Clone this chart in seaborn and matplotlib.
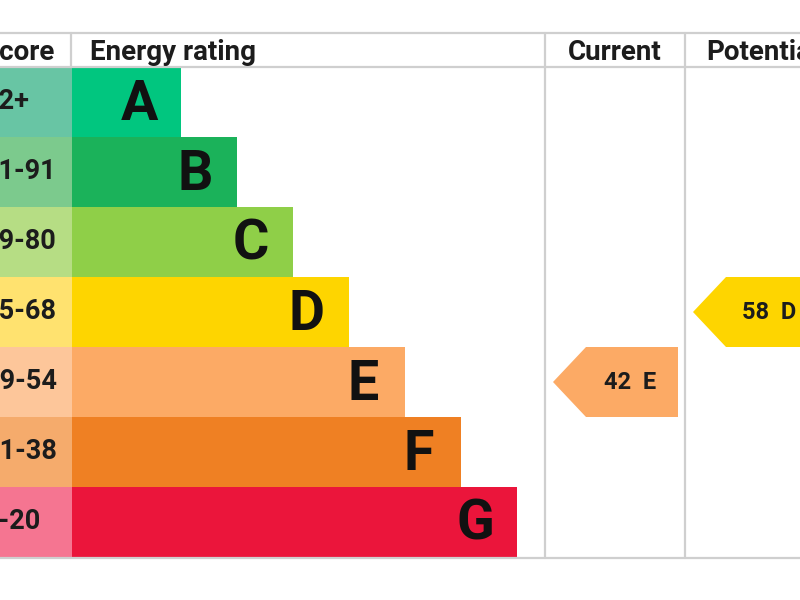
import seaborn as sns
import matplotlib.pyplot as plt
import pandas as pd

# chart values
bands = ["A", "B", "C", "D", "E", "F", "G"]
score_ranges = ["92+", "81-91", "69-80", "55-68", "39-54", "21-38", "1-20"]
bar_lengths = [109, 165, 221, 277, 333, 389, 445]
band_colors = ["#01c67f", "#1bb25a", "#8fcf48", "#fed500", "#fcaa65", "#ef8023", "#eb153b"]
score_colors = ["#68c5a4", "#7cca8d", "#b6dd84", "#ffe26f", "#fdc69a", "#f5ab6c", "#f57591"]
current_band = "E"
current_score = 42
potential_band = "D"
potential_score = 58

W, H = 800, 600
TOP, BOTTOM = 67, 557
GRID = "#cfcfcf"
INK = "#1c1c1c"

sns.set_theme(style="white")
plt.rcParams["font.family"] = ["Roboto", "DejaVu Sans"]

fig = plt.figure(figsize=(8, 6), dpi=100, facecolor="white")


def px_axes(left, right):
    return fig.add_axes([left / W, 1 - BOTTOM / H, (right - left) / W, (BOTTOM - TOP) / H])


df = pd.DataFrame({"band": bands, "length": bar_lengths, "score": score_ranges})
df["cell"] = 72

# score column
ax_score = px_axes(0, 72)
sns.barplot(data=df, y="band", x="cell", hue="band", palette=score_colors, order=bands,
            width=1, saturation=1, linewidth=0, legend=False, ax=ax_score)
ax_score.set_xlim(0, 72)
ax_score.set_ylim(6.5, -0.5)
for i, s in enumerate(score_ranges):
    ax_score.text(-16, i - 0.01, s, ha="left", va="center", fontsize=19.5,
                  fontweight="bold", color=INK, clip_on=False)

# rating bars
ax_bars = px_axes(72, 545)
sns.barplot(data=df, y="band", x="length", hue="band", palette=band_colors, order=bands,
            width=1, saturation=1, linewidth=0, legend=False, ax=ax_bars)
ax_bars.set_xlim(0, 473)
ax_bars.set_ylim(6.5, -0.5)
for i, (b, n) in enumerate(zip(bands, bar_lengths)):
    ax_bars.text(n - 42, i + 0.04, b, ha="center", va="center", fontsize=40,
                 fontweight="bold", color="#111111")

for ax in (ax_score, ax_bars):
    ax.axis("off")

# current / potential arrows, on the same row scale as the bars
ax_arrows = px_axes(545, 800)
ax_arrows.set_xlim(545, 800)
ax_arrows.set_ylim(6.5, -0.5)
ax_arrows.axis("off")


def draw_arrow(band, tip, right, label, label_x):
    row = bands.index(band)
    shoulder = tip + 33
    ax_arrows.fill([tip, shoulder, right, right, shoulder],
                   [row, row - 0.5, row - 0.5, row + 0.5, row + 0.5],
                   color=band_colors[row], linewidth=0)
    ax_arrows.text(label_x, row + 0.01, label, ha="center", va="center", fontsize=17,
                   fontweight="bold", color=INK, clip_on=True)


draw_arrow(current_band, 553, 678, f"{current_score}  {current_band}", 630)
draw_arrow(potential_band, 693, 815, f"{potential_score}  {potential_band}", 769)

# table lines and headers, in pixel coordinates of the figure
overlay = fig.add_axes([0, 0, 1, 1], facecolor="none")
overlay.set_xlim(0, W)
overlay.set_ylim(H, 0)
overlay.axis("off")
for y in (33, 67, 558):
    overlay.plot([0, W], [y, y], color=GRID, linewidth=1.6)
overlay.plot([71, 71], [33, 67], color=GRID, linewidth=1.6)
for x in (545, 685):
    overlay.plot([x, x], [33, 558], color=GRID, linewidth=1.6)

header = dict(va="center", fontsize=20, fontweight="bold", color=INK)
overlay.text(-18, 52, "Score", ha="left", **header)
overlay.text(90, 52, "Energy rating", ha="left", **header)
overlay.text(615, 52, "Current", ha="center", **header)
overlay.text(706, 52, "Potential", ha="left", **header)

fig.savefig("out.png", dpi=100)
